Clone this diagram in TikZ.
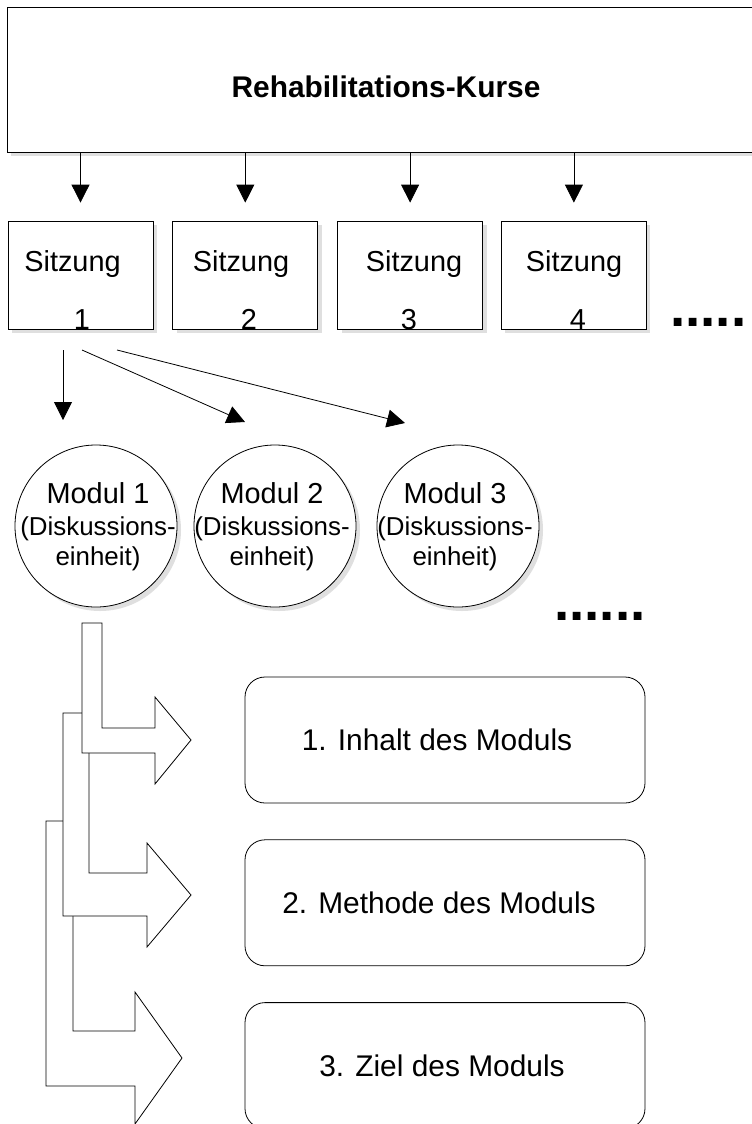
\documentclass[tikz,border=0pt]{standalone}
\usepackage{fontspec}
\setmainfont{Liberation Sans}
\usetikzlibrary{positioning, arrows.meta, shadows}
\tikzset{
  kbox/.style={draw, fill=white, line width=0.8bp, inner sep=0pt,
               drop shadow={shadow xshift=4bp, shadow yshift=-4bp, fill=black!25}},
  sbox/.style={kbox, minimum width=145bp, minimum height=108bp},
  mkreis/.style={kbox, circle, minimum size=162bp},
  zbox/.style={draw, fill=white, line width=0.8bp, rounded corners=20bp,
               minimum width=400bp, minimum height=126bp, font=\fontsize{30}{36}\selectfont},
  stxt/.style={anchor=base, inner sep=0pt, font=\fontsize{29}{34}\selectfont},
  mtxt/.style={align=center, inner sep=0pt, font=\fontsize{26}{27}\selectfont},
  punkte/.style={anchor=base west, inner sep=0pt, font=\bfseries\fontsize{55}{55}\selectfont},
  pfeil/.style={-{Triangle[length=18bp, width=18bp]}, line width=0.8bp},
  bpfeil/.style={draw, fill=white, line width=0.8bp, line join=miter},
}
\begin{document}
\begin{tikzpicture}[x=1bp, y=-1bp]
        \useasboundingbox (0,0) rectangle (752,1124);
        \clip (0,0) rectangle (752,1124);
        % Kurse und Sitzungen
        \node[kbox, minimum width=753bp, minimum height=145bp](kurse) at (383.5,79.5){};
        \node[stxt, font=\bfseries\fontsize{30}{36}\selectfont](titel) at (386,97){Rehabilitations-Kurse};
        \node[sbox](s1) at (80.5,275){};
        \node[sbox, right=19bp of s1](s2){};
        \node[sbox, right=19bp of s2](s3){};
        \node[sbox, right=18bp of s3](s4){};
        \node[stxt](s1t) at (72.5,271){Sitzung};  \node[stxt](s1n) at (82,329){1};
        \node[stxt](s2t) at (241,271){Sitzung};   \node[stxt](s2n) at (249,329){2};
        \node[stxt](s3t) at (414,271){Sitzung};   \node[stxt](s3n) at (409,329){3};
        \node[stxt](s4t) at (574,271){Sitzung};   \node[stxt](s4n) at (578,329){4};
        \node[punkte](mehr1) at (670,326.5){.....};
        \draw[pfeil, shorten >=18bp](kurse.south -| s1)--(s1.north);
        \draw[pfeil, shorten >=18bp](kurse.south -| s2)--(s2.north);
        \draw[pfeil, shorten >=18bp](kurse.south -| s3)--(s3.north);
        \draw[pfeil, shorten >=18bp](kurse.south -| s4)--(s4.north);
        % Module
        \node[mkreis](m1) at (96,526){};
        \node[mkreis](m2) at (275,526){};
        \node[mkreis](m3) at (458,526){};
        \node[mtxt](m1t) at (98,527){{\fontsize{29}{29}\selectfont Modul 1}\\[5bp](Diskussions-\\[3bp]einheit)};
        \node[mtxt](m2t) at (272,527){{\fontsize{29}{29}\selectfont Modul 2}\\[5bp](Diskussions-\\[3bp]einheit)};
        \node[mtxt](m3t) at (455,527){{\fontsize{29}{29}\selectfont Modul 3}\\[5bp](Diskussions-\\[3bp]einheit)};
        \node[punkte](mehr2) at (554,620.5){......};
        \coordinate(a1) at (63,350);  \coordinate(b1) at (63,420);
        \coordinate(a2) at (82,350);  \coordinate(b2) at (245,422);
        \coordinate(a3) at (117,350); \coordinate(b3) at (405,423);
        \draw[pfeil](a1)--(b1); \draw[pfeil](a2)--(b2); \draw[pfeil](a3)--(b3);
        % Bestandteile eines Moduls
        \node[zbox](z1) at (445,740){1. Inhalt des Moduls\hspace*{16bp}};
        \node[zbox, below=36bp of z1](z2){2. Methode des Moduls\hspace*{12bp}};
        \node[zbox, below=36bp of z2](z3){3. Ziel des Moduls\hspace*{6bp}};
        \path[bpfeil](46,821)--(73,821)--(73,1031)--(135,1031)--(135,992)--(182,1058)
          --(135,1124)--(135,1086)--(46,1086)--cycle;
        \path[bpfeil](63,713)--(89,713)--(89,873)--(147,873)--(147,843)--(191,895)
          --(147,947)--(147,916)--(63,916)--cycle;
        \path[bpfeil](82,623)--(102,623)--(102,728)--(155,728)--(155,697)--(191,740)
          --(155,784)--(155,753)--(82,753)--cycle;
      \end{tikzpicture}
\end{document}
